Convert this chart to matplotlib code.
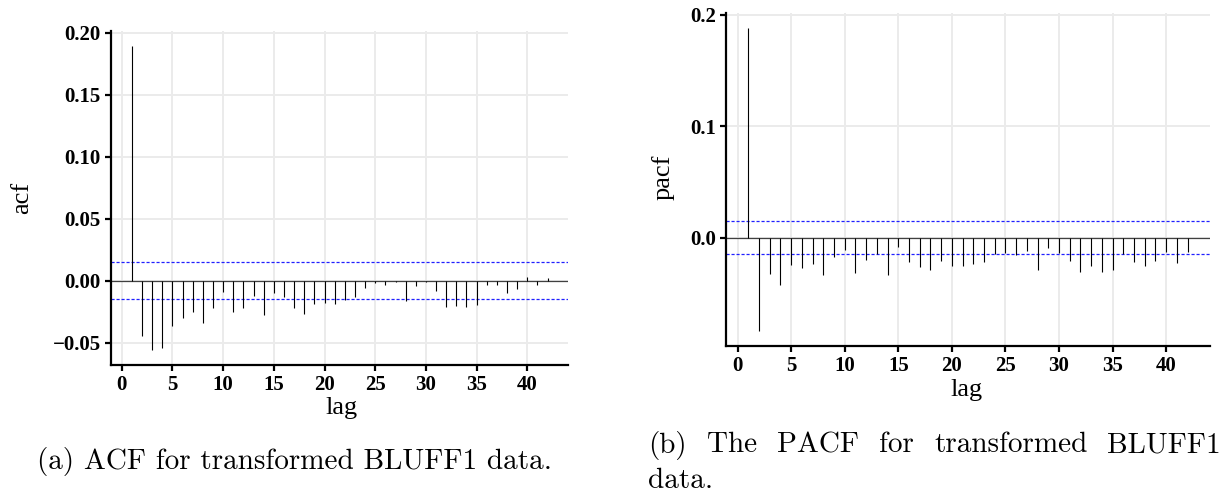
import numpy as np
import matplotlib
matplotlib.use("Agg")
import matplotlib.pyplot as plt

# lags 1..42
lags = np.arange(1, 43)

acf_vals = [0.189, -0.0444, -0.0556, -0.0540, -0.0363, -0.0298, -0.0255, -0.0336, -0.0220, -0.0089,
            -0.0250, -0.0220, -0.0124, -0.0274, -0.0100, -0.0129, -0.0218, -0.0266, -0.0190, -0.0180,
            -0.0188, -0.0156, -0.0130, -0.0062, -0.0016, -0.0030, -0.0013, -0.0164, -0.0040, -0.0013,
            -0.0086, -0.0210, -0.0200, -0.0210, -0.0196, -0.0035, -0.0035, -0.0097, -0.0070, 0.0030,
            -0.0035, 0.0020]

pacf_vals = [0.188, -0.0839, -0.0328, -0.0424, -0.0245, -0.0272, -0.0236, -0.0337, -0.0179, -0.0113,
             -0.0320, -0.0203, -0.0146, -0.0340, -0.0084, -0.0218, -0.0266, -0.0296, -0.0215, -0.0254,
             -0.0254, -0.0236, -0.0218, -0.0149, -0.0140, -0.0161, -0.0122, -0.0290, -0.0093, -0.0140,
             -0.0209, -0.0310, -0.0260, -0.0307, -0.0296, -0.0152, -0.0221, -0.0260, -0.0212, -0.0131,
             -0.0233, -0.0131]

conf = 0.0148

x_ticks = [0, 5, 10, 15, 20, 25, 30, 35, 40]
acf_yticks = [-0.05, 0.0, 0.05, 0.10, 0.15, 0.20]
acf_ylabels = ["\u22120.05", "0.00", "0.05", "0.10", "0.15", "0.20"]
pacf_yticks = [0.0, 0.1, 0.2]
pacf_ylabels = ["0.0", "0.1", "0.2"]

W, H = 1227, 496
fig = plt.figure(figsize=(W / 100, H / 100), dpi=100)

tick_font = dict(family=["Liberation Serif", "DejaVu Serif"], size=15, weight="bold")
lab_font = dict(family=["Liberation Serif", "DejaVu Serif"], size=19)
cap_font = dict(family=["cmr10", "DejaVu Serif"], size=21)


def expand(lo, hi, f=0.05):
    r = hi - lo
    return lo - f * r, hi + f * r


def draw_panel(rect, vals, yticks, ylabels, ylab, ylab_xy, xlab_xy):
    ax = fig.add_axes(rect)
    vals = np.array(vals)
    ax.grid(True, color="#ebebeb", lw=1.4, zorder=0)
    ax.set_axisbelow(True)
    ax.axhline(0, color="#404040", lw=0.9, zorder=2)
    ax.vlines(lags, 0, vals, color="black", lw=0.8, zorder=3)
    for c in (conf, -conf):
        ax.axhline(c, color="#2020ff", lw=0.9, ls=(0, (2.5, 1.5)), zorder=2)
    ax.set_xlim(expand(lags.min(), lags.max()))
    ax.set_ylim(expand(min(vals.min(), -conf), max(vals.max(), conf)))
    ax.set_xticks(x_ticks)
    ax.set_xticklabels([str(t) for t in x_ticks], **tick_font)
    ax.set_yticks(yticks)
    ax.set_yticklabels(ylabels, **tick_font)
    for s in ("top", "right"):
        ax.spines[s].set_visible(False)
    for s in ("left", "bottom"):
        ax.spines[s].set_linewidth(1.6)
    ax.tick_params(length=4.5, width=1.6, pad=3)
    ax.set_ylabel(ylab, va="center", **lab_font)
    ax.yaxis.set_label_coords(*ylab_xy)
    ax.set_xlabel("lag", va="center", **lab_font)
    ax.xaxis.set_label_coords(*xlab_xy)
    return ax


def px_rect(l, r, t, b):
    return [l / W, 1 - b / H, (r - l) / W, (b - t) / H]


draw_panel(px_rect(111.1, 568.4, 31, 365), acf_vals, acf_yticks, acf_ylabels,
           "acf", (-0.195, 0.5), (0.503, -0.129))
draw_panel(px_rect(726.3, 1209.5, 13.2, 346), pacf_vals, pacf_yticks, pacf_ylabels,
           "pacf", (-0.131, 0.508), (0.498, -0.132))

# captions
fig.text(37 / W, 1 - 462 / H, "(a) ACF for transformed BLUFF1 data.", va="center", ha="left", **cap_font)

words = ["(b)", "The", "PACF", "for", "transformed", "BLUFF1"]
x0, x1 = 648, 1221
fig.canvas.draw()
r = fig.canvas.get_renderer()
texts = [fig.text(0, 1 - 445 / H, w, va="center", ha="left", **cap_font) for w in words]
widths = [t.get_window_extent(r).width for t in texts]
gap = (x1 - x0 - sum(widths)) / (len(words) - 1)
x = x0
for t, w in zip(texts, widths):
    t.set_x(x / W)
    x += w + gap
fig.text(x0 / W, 1 - 481 / H, "data.", va="center", ha="left", **cap_font)

fig.savefig("out.png", dpi=100)
